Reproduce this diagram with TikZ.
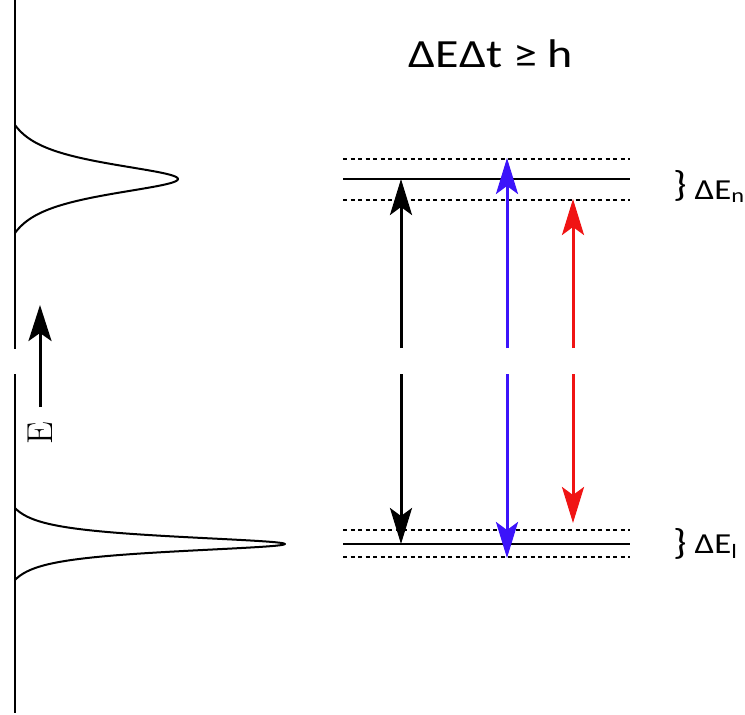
\documentclass[tikz,border=0pt]{standalone}
\usepackage{fontspec}
\setmainfont{Carlito}
\newfontfamily\widefont[FakeStretch=1.2]{Carlito}
\newfontfamily\serifE{Latin Modern Roman}
\usepackage{tikz}
\usetikzlibrary{arrows.meta}
\tikzstyle{axisline} = [line width=2.6pt]
\tikzstyle{peak} = [line width=2pt, line join=round]
\tikzstyle{level} = [line width=2.8pt]
\tikzstyle{spread} = [line width=1.7pt, dash pattern=on 4pt off 3.5pt]
\tikzstyle{arrow} = [line width=3pt,->,>={Stealth[length=36pt,width=22pt,inset=8pt]}]
\tikzstyle{label} = [font=\widefont\fontsize{29}{32}\selectfont, anchor=base west, inner sep=0pt]
\newcommand{\bigbrace}{{\fontsize{36}{36}\selectfont\}}}
\definecolor{bluearrow}{RGB}{60,20,250}
\definecolor{redarrow}{RGB}{240,20,20}

\begin{document}
\begin{tikzpicture}[x=1pt,y=-1pt]
	\useasboundingbox (0,0) rectangle (745,715);
	\draw[axisline] (15,0) -- (15,349);
	\draw[axisline] (15,374) -- (15,713);
	\draw[peak] plot[domain=-54:54, samples=121] ({15+163*((1/(1+(\x/20)^2))-0.1206)/0.8794}, {179+\x});
	\draw[peak] plot[domain=-36:36, samples=121] ({15+270*((1/(1+(\x/9.5)^2))-0.0652)/0.9348}, {544+\x});
	\coordinate (ebottom) at (40,407);
	\coordinate (etop) at (40,305);
	\draw[arrow, >={Stealth[length=36pt,width=23pt,inset=8pt]}] (ebottom) -- (etop);
	\node(elabel) [rotate=90, font=\serifE\fontsize{36}{38}\selectfont, inner sep=0pt] at (40,433) {E};

	\node(title) [font=\widefont\fontsize{40}{44}\selectfont, inner sep=0pt, anchor=base] at (491,67) {ΔEΔt ≥ h};

	\coordinate (nleft) at (343,179);
	\coordinate (nright) at (630,179);
	\coordinate (lleft) at (343,544);
	\coordinate (lright) at (630,544);
	\draw[level] (nleft) -- (nright);
	\draw[level] (lleft) -- (lright);
	\draw[spread] ([yshift=-21pt]nleft) -- ([yshift=-21pt]nright);
	\draw[spread] ([yshift=20pt]nleft) -- ([yshift=20pt]nright);
	\draw[spread] ([yshift=-13pt]lleft) -- ([yshift=-13pt]lright);
	\draw[spread] ([yshift=14pt]lleft) -- ([yshift=14pt]lright);

	\node(nlabel) [label] at (673,199) {\raisebox{3pt}{\bigbrace} ΔE\textsubscript{n}};
	\node(llabel) [label] at (673,553) {\raisebox{-1pt}{\bigbrace} ΔE\textsubscript{l}};

	\coordinate (blackup) at (401,348);
	\coordinate (blackdown) at (401,374);
	\coordinate (blueup) at (507,348);
	\coordinate (bluedown) at (507,374);
	\coordinate (redup) at (573,348);
	\coordinate (reddown) at (573,374);
	\draw[arrow] (blackup) -- (401,179);
	\draw[arrow] (blackdown) -- (401,544);
	\draw[arrow, bluearrow] (blueup) -- (507,158);
	\draw[arrow, bluearrow] (bluedown) -- (507,558);
	\draw[arrow, redarrow] (redup) -- (573,199);
	\draw[arrow, redarrow] (reddown) -- (573,523);
\end{tikzpicture}
\end{document}
